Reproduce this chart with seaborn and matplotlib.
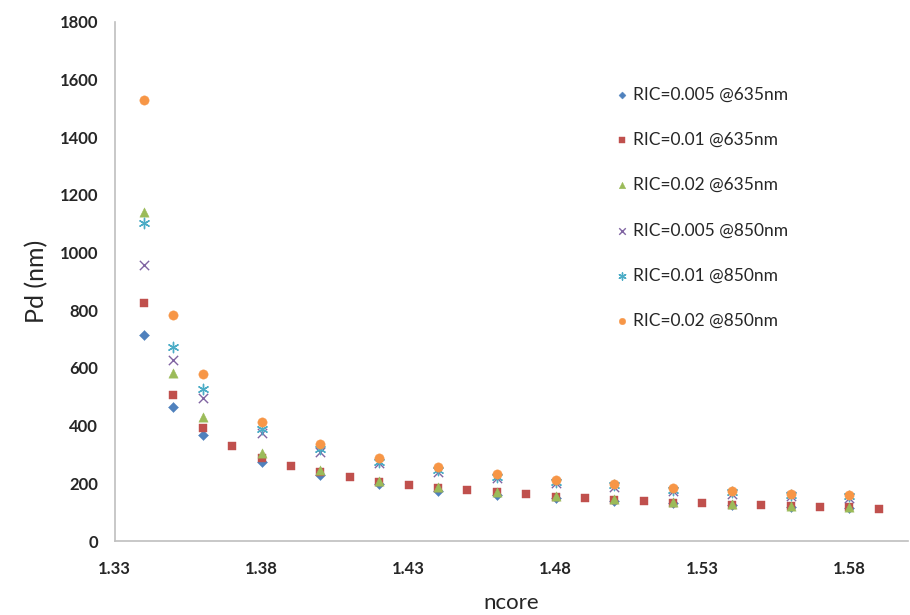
import matplotlib
matplotlib.use("Agg")
import matplotlib.pyplot as plt
import seaborn as sns
import pandas as pd

# ncore positions (the 0.01 @635nm series is sampled twice as densely)
n_sparse = [1.34, 1.35, 1.36, 1.38, 1.40, 1.42, 1.44, 1.46, 1.48, 1.50, 1.52, 1.54, 1.56, 1.58]
n_dense = [1.34, 1.35, 1.36, 1.37, 1.38, 1.39, 1.40, 1.41, 1.42, 1.43, 1.44, 1.45, 1.46,
           1.47, 1.48, 1.49, 1.50, 1.51, 1.52, 1.53, 1.54, 1.55, 1.56, 1.57, 1.58, 1.59]

pd_005_635 = [714, 466, 368, 275, 229, 198, 175, 160, 148, 139, 131, 125, 120, 115]
pd_01_635 = [824, 505, 392, 330, 287, 260, 239, 222, 206, 194, 184, 177, 169,
             162, 154, 148, 143, 140, 134, 131, 127, 124, 121, 119, 117, 113]
pd_02_635 = [1139, 582, 431, 306, 246, 208, 188, 171, 156, 145, 136, 129, 123, 118]
pd_005_850 = [957, 628, 497, 376, 310, 270, 240, 219, 200, 189, 173, 163, 155, 150]
pd_01_850 = [1102, 674, 526, 387, 318, 276, 246, 224, 206, 194, 179, 170, 161, 155]
pd_02_850 = [1527, 782, 578, 413, 335, 289, 258, 232, 212, 198, 183, 175, 165, 160]

labels = ["RIC=0.005 @635nm", "RIC=0.01 @635nm", "RIC=0.02 @635nm",
          "RIC=0.005 @850nm", "RIC=0.01 @850nm", "RIC=0.02 @850nm"]

series = [
    (n_sparse, pd_005_635, "#4F81BD", "D", 26),
    (n_dense, pd_01_635, "#C0504D", "s", 40),
    (n_sparse, pd_02_635, "#9BBB59", "^", 45),
    (n_sparse, pd_005_850, "#8064A2", "x", 45),
    (n_sparse, pd_01_850, "#4BACC6", (6, 2, 0), 55),
    (n_sparse, pd_02_850, "#F79646", "o", 45),
]

sns.set_style("white")
plt.rcParams["font.family"] = ["Lato", "DejaVu Sans"]

fig = plt.figure(figsize=(9.1, 6.15), dpi=100)
ax = fig.add_axes([0.126, 0.12, 0.872, 0.845])

for label, (xs, ys, color, marker, size) in zip(labels, series):
    df = pd.DataFrame({"ncore": xs, "Pd": ys})
    if marker in ("x", (6, 2, 0)):
        sns.scatterplot(data=df, x="ncore", y="Pd", ax=ax, color=color, marker=marker,
                        s=size, linewidth=1.0, label=label)
    else:
        sns.scatterplot(data=df, x="ncore", y="Pd", ax=ax, color=color, marker=marker,
                        s=size, edgecolor=color, linewidth=0.3, label=label)

ax.set_xlim(1.33, 1.60)
ax.set_ylim(0, 1800)
ax.set_xticks([1.33, 1.38, 1.43, 1.48, 1.53, 1.58])
ax.set_xticklabels(["1.33", "1.38", "1.43", "1.48", "1.53", "1.58"])
ax.set_yticks(range(0, 1801, 200))
ax.tick_params(axis="both", length=0, labelsize=12)
ax.tick_params(axis="x", pad=14)
ax.tick_params(axis="y", pad=12)
for t in ax.get_xticklabels() + ax.get_yticklabels():
    t.set_fontweight("bold")

ax.set_xlabel("ncore", fontsize=16, labelpad=12)
ax.set_ylabel("Pd (nm)", fontsize=18, labelpad=8)

sns.despine(ax=ax)
for side in ("left", "bottom"):
    ax.spines[side].set_color("#BFBFBF")
    ax.spines[side].set_linewidth(1.2)

ax.legend(loc="upper left", bbox_to_anchor=(0.657, 0.885), bbox_transform=fig.transFigure,
          frameon=False, fontsize=12.5, labelspacing=1.69, handletextpad=0.1,
          markerscale=0.7, handlelength=1.0)

fig.savefig("out.png", dpi=100)
